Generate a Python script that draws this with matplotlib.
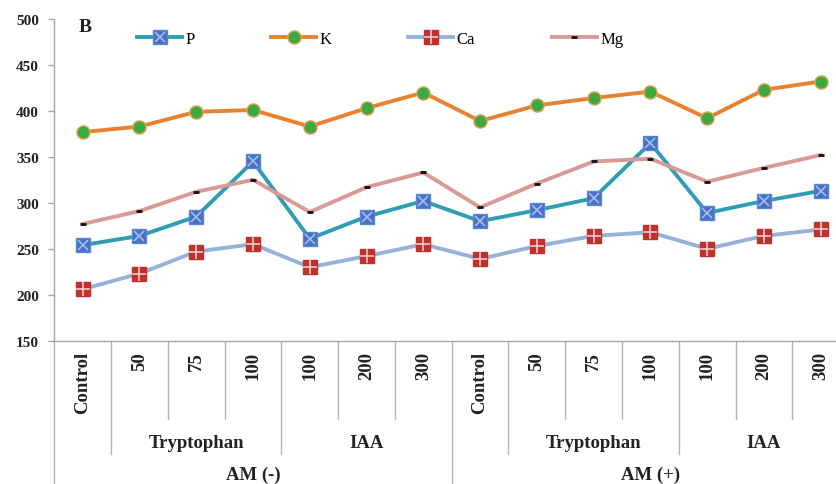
import matplotlib
matplotlib.use("Agg")
from matplotlib import pyplot as plt
from matplotlib.lines import Line2D

plt.rcParams['font.family'] = ['Liberation Serif', 'DejaVu Serif']

# Data
level1 = ['Control', '50', '75', '100', '100', '200', '300',
          'Control', '50', '75', '100', '100', '200', '300']
level2 = [('Tryptophan', 1, 3), ('IAA', 4, 6),
          ('Tryptophan', 8, 10), ('IAA', 11, 13)]
level3 = [('AM (-)', 0, 6), ('AM (+)', 7, 13)]

P = [254, 264, 285, 345, 261, 285, 302, 280, 292, 305, 365, 289, 302, 313]
K = [377, 383, 399, 401, 383, 403, 420, 389, 406, 414, 421, 392, 423, 432]
Ca = [206, 223, 247, 255, 230, 242, 255, 239, 253, 264, 268, 250, 264, 271]
Mg = [277, 291, 312, 325, 290, 317, 333, 295, 321, 345, 348, 323, 338, 352]

x = list(range(len(level1)))

fig = plt.figure(figsize=(8.36, 4.85), dpi=100)
ax = fig.add_axes([54.3 / 836, 143.3 / 485, 794.8 / 836, 321.7 / 485])

lw = 2.8
# P
p_line, = ax.plot(x, P, '-', color='#2F9DB3', lw=lw, marker='s', ms=9.5,
                  mfc='#4A6FC4', mec='#5B86D0', zorder=3)
p_x, = ax.plot(x, P, ls='none', marker='x', ms=7, mec='#9FC0EE', mew=1.2, zorder=4)
# K
k_line, = ax.plot(x, K, '-', color='#E8822E', lw=lw, marker='o', ms=9.5,
                  mfc='#3DAA3F', mec='#E8A060', mew=1, zorder=3)
# Ca
ca_line, = ax.plot(x, Ca, '-', color='#97B2D8', lw=lw, marker='s', ms=9.5,
                   mfc='#C0312E', mec='#C0312E', zorder=3)
ca_x, = ax.plot(x, Ca, ls='none', marker='+', ms=9.5, mec='#F2C8C8', mew=1.2, zorder=4)
# Mg
mg_line, = ax.plot(x, Mg, '-', color='#D99A97', lw=lw, marker='_', ms=5,
                   mec='#111111', mew=2, zorder=3)

ax.set_xlim(-0.5, 13.5)
ax.set_ylim(150, 500)
ax.set_yticks(range(150, 501, 50))
for s in ['top', 'right']:
    ax.spines[s].set_visible(False)
for s in ['left', 'bottom']:
    ax.spines[s].set_color('#A6A6A6')
    ax.spines[s].set_linewidth(1)
ax.tick_params(axis='y', length=4, width=1, color='#A6A6A6', pad=7,
               labelsize=11, labelcolor='#222222')
for lab in ax.get_yticklabels():
    lab.set_fontweight('bold')
ax.set_xticks([])

# multi-level category axis
tr = ax.get_xaxis_transform()
sep_col = '#B4B4B4'
inner_bottom, group_bottom, outer_bottom = -0.2434, -0.352, -0.48
group_edges = [0.5, 3.5, 7.5, 10.5]
outer_edges = [-0.5, 6.5, 13.5]
for i in range(len(level1) + 1):
    xe = i - 0.5
    if xe in outer_edges:
        yb = outer_bottom
    elif xe in group_edges:
        yb = group_bottom
    else:
        yb = inner_bottom
    ax.add_line(Line2D([xe, xe], [0, yb], transform=tr, color=sep_col,
                       lw=1, clip_on=False))

for i, lab in enumerate(level1):
    ax.text(i, -0.032, lab, transform=tr, rotation=90, ha='center', va='top',
            fontsize=13.5, fontweight='bold', color='#222222')
for lab, a, b in level2:
    ax.text((a + b) / 2, -0.315, lab, transform=tr, ha='center', va='center',
            fontsize=13.5, fontweight='bold', color='#222222')
for lab, a, b in level3:
    ax.text((a + b) / 2, -0.414, lab, transform=tr, ha='center', va='center',
            fontsize=13.5, fontweight='bold', color='#222222')

fig.text(79 / 836, 1 - 27 / 485, 'B', fontsize=14, fontweight='bold',
         va='center', ha='left', color='#222222')

fig.legend([(p_line, p_x), k_line, (ca_line, ca_x), mg_line],
           ['P', 'K', 'Ca', 'Mg'], ncol=4, frameon=False,
           loc='center left', bbox_to_anchor=(137 / 836, 1 - 40 / 485),
           borderpad=0, borderaxespad=0,
           fontsize=12, handlelength=2.7, handletextpad=0.2,
           columnspacing=4.6)

fig.savefig('out.png', dpi=100)
